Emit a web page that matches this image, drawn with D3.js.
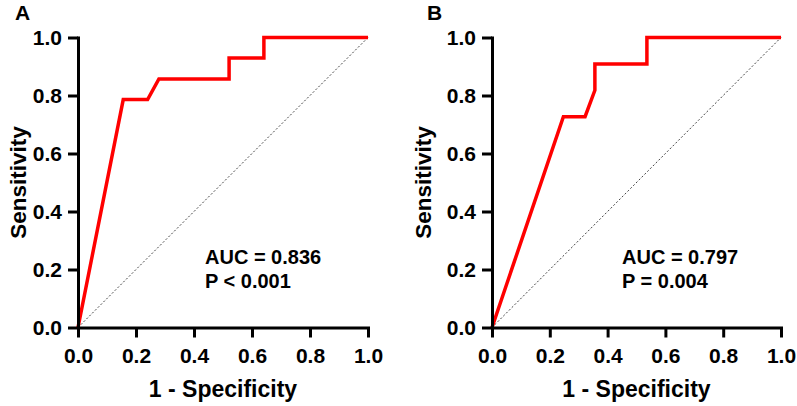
<html>
<head>
<script src="https://cdn.jsdelivr.net/npm/d3@7"></script>
<style>
  body { margin: 0; background: #fff; }
  text { font-family: "Liberation Sans", Arial, sans-serif; font-weight: bold; }
</style>
</head>
<body>
<svg width="797" height="406" id="chart"></svg>
<script>
// ROC curve points
var rocAfpr = [0, 0.156, 0.240, 0.279, 0.521, 0.521, 0.641, 0.641, 1.0];
var rocAtpr = [0, 0.786, 0.786, 0.857, 0.857, 0.929, 0.929, 1.0, 1.0];
var rocBfpr = [0, 0.247, 0.322, 0.356, 0.356, 0.536, 0.536, 1.0];
var rocBtpr = [0, 0.727, 0.727, 0.818, 0.909, 0.909, 1.0, 1.0];
var tickValues = [0, 0.2, 0.4, 0.6, 0.8, 1.0];
var panelLetters = ["A", "B"];
var aucLines = [["AUC = 0.836", "P < 0.001"], ["AUC = 0.797", "P = 0.004"]];

var svg = d3.select("#chart");

var panels = [
  { letter: panelLetters[0], fpr: rocAfpr, tpr: rocAtpr, stats: aucLines[0],
    x0: 78, x1: 368, letterX: 15, titleX: 26, statX: 205 },
  { letter: panelLetters[1], fpr: rocBfpr, tpr: rocBtpr, stats: aucLines[1],
    x0: 492, x1: 781, letterX: 427, titleX: 431, statX: 622 }
];

var plotTop = 37.5, plotBottom = 327.5;

panels.forEach(function(p) {
  var x = d3.scaleLinear().domain([0, 1]).range([p.x0, p.x1]);
  var y = d3.scaleLinear().domain([0, 1]).range([plotBottom, plotTop]);
  var g = svg.append("g");

  // chance diagonal
  g.append("line")
    .attr("x1", x(0)).attr("y1", y(0))
    .attr("x2", x(1)).attr("y2", y(1))
    .style("stroke", "#444")
    .style("stroke-width", 1)
    .style("stroke-dasharray", "2,2");

  var pts = p.fpr.map(function(d, i) { return [d, p.tpr[i]]; });
  var line = d3.line()
    .x(function(d) { return x(d[0]); })
    .y(function(d) { return y(d[1]); });

  g.append("path")
    .attr("d", line(pts))
    .style("fill", "none")
    .style("stroke", "#ff0000")
    .style("stroke-width", 3.5)
    .style("stroke-linejoin", "miter");

  var xAxis = g.append("g")
    .attr("transform", "translate(0," + plotBottom + ")")
    .call(d3.axisBottom(x).tickValues(tickValues).tickFormat(d3.format(".1f"))
      .tickSize(10).tickSizeOuter(0).tickPadding(10.5));
  var yAxis = g.append("g")
    .attr("transform", "translate(" + p.x0 + ",0)")
    .call(d3.axisLeft(y).tickValues(tickValues).tickFormat(d3.format(".1f"))
      .tickSize(10).tickSizeOuter(0).tickPadding(6));

  [xAxis, yAxis].forEach(function(a) {
    a.select(".domain").style("stroke", "#000").style("stroke-width", 3)
      .style("stroke-linecap", "square");
    a.selectAll(".tick line").style("stroke", "#000").style("stroke-width", 3);
    a.selectAll(".tick text").style("font-size", "21px").style("fill", "#000")
      .style("font-family", "'Liberation Sans', Arial, sans-serif").style("font-weight", "bold");
  });

  // axis titles
  g.append("text")
    .attr("x", (p.x0 + p.x1) / 2).attr("y", 397)
    .attr("text-anchor", "middle")
    .style("font-size", "23px")
    .text("1 - Specificity");

  g.append("text")
    .attr("transform", "translate(" + p.titleX + "," + ((plotTop + plotBottom) / 2) + ") rotate(-90)")
    .attr("text-anchor", "middle")
    .style("font-size", "22.5px")
    .text("Sensitivity");

  // panel letter
  g.append("text")
    .attr("x", p.letterX).attr("y", 19.5)
    .style("font-size", "21px")
    .text(p.letter);

  // stats
  g.selectAll(".stat")
    .data(p.stats)
    .enter().append("text")
    .attr("x", p.statX)
    .attr("y", function(d, i) { return 264 + i * 23.5; })
    .style("font-size", "20px")
    .text(function(d) { return d; });
});
</script>
</body>
</html>
